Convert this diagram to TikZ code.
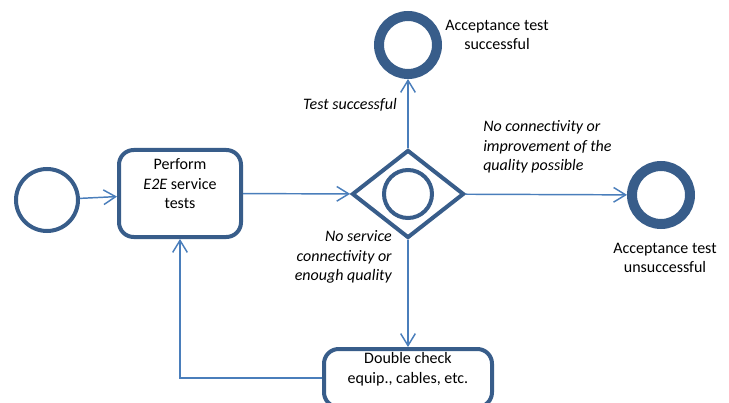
\documentclass[tikz,border=0pt]{standalone}
\usepackage{fontspec}
\setmainfont{Carlito}
\usetikzlibrary{shapes.geometric}
\usetikzlibrary{arrows.meta}
\definecolor{sblue}{RGB}{56,93,138}
\definecolor{fblue}{RGB}{74,126,187}
\newcommand{\labelsize}{\fontsize{12}{14.6}\selectfont}
\tikzset{
    event/.style={circle, draw=sblue, line width=3pt, minimum size=46.5pt, inner sep=0pt},
    endevent/.style={circle, draw=sblue, line width=7.5pt, minimum size=43.5pt, inner sep=0pt},
    task/.style={rectangle, rounded corners=11pt, draw=sblue, line width=3pt, inner sep=0pt},
    gateway/.style={diamond, draw=sblue, line width=3pt, minimum width=84pt, minimum height=66pt, inner sep=0pt},
    flow/.style={draw=fblue, line width=1.1pt, -{Straight Barb[length=9pt,width=11pt]}},
    tasktext/.style={align=center, inner sep=0pt, font=\labelsize},
    note/.style={inner sep=0pt, font=\labelsize\itshape}
  }

\begin{document}
\begin{tikzpicture}[x=0.75pt, y=-0.75pt]
  \useasboundingbox (0,0) rectangle (729,403);
  %Start event
      \node[event] (start) at (47,200) {};
  %Task: perform tests
      \node[task, minimum width=91.5pt, minimum height=65.25pt] (perform) at (180,193.5) {};
      \node[tasktext] (performtext) at (180,184) {Perform\\\textit{E2E} service\\tests};
  %Gateway
      \node[gateway] (gate) at (408,194) {};
      \node[event, minimum size=36pt] (gatering) at (gate.center) {};
  %End events
      \node[endevent] (ok) at (408,45) {};
      \node[tasktext] (okname) at (497,35) {Acceptance test\\successful};
      \node[endevent] (fail) at (661,195) {};
      \node[tasktext] (failname) at (665,258) {Acceptance test\\unsuccessful};
  %Task: double check
      \node[task, minimum width=126pt, minimum height=43.5pt] (check) at (408,378) {};
      \node[tasktext] (checktext) at (408,369) {Double check\\equip., cables, etc.};
  % flows
      \draw[flow] (start) -- (perform);
      \draw[flow] (perform) -- (gate);
      \draw[flow] (gate) -- (ok);
      \draw[flow] (gate) -- (fail);
      \draw[flow] (gate) -- (check);
      \draw[flow] (check.west) -| (perform.south);
  % conditions
      \node[note, anchor=east] (lsuccess) at (397,105) {Test successful};
      \node[note, align=right, anchor=east] (lnoservice) at (392,257) {No service\\connectivity or\\enough quality};
      \node[note, align=left, anchor=west] (lnoconn) at (483,147) {No connectivity or\\improvement of the\\quality possible};
\end{tikzpicture}
\end{document}
